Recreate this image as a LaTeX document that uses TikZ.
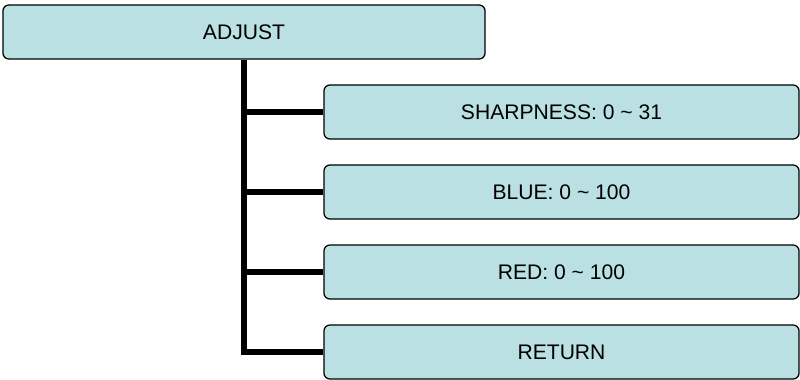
\documentclass[tikz,border=0pt]{standalone}
\usepackage{fontspec}
\setmainfont{Liberation Sans}
\usetikzlibrary{positioning}
\definecolor{menufill}{HTML}{BAE0E3}

\begin{document}
\begin{tikzpicture}
[x=0.025cm, y=-0.025cm,
 menu/.style={draw, line width=0.9pt, rounded corners=0.15cm, fill=menufill,
   minimum height=1.35cm, inner sep=0pt, font=\fontsize{15}{18}\selectfont},
 item/.style={menu, minimum width=11.875cm},
 branch/.style={line width=3.6pt}]
\useasboundingbox (0,0) rectangle (800,380);

\node [menu, minimum width=12.05cm] (adjust) at (244,32) {ADJUST};

\node [item] (sharp) at (561.5,112) {SHARPNESS: 0 \textasciitilde{} 31};
\node [item, below=0.618cm of sharp] (blue) {BLUE: 0 \textasciitilde{} 100};
\node [item, below=0.618cm of blue] (red) {RED: 0 \textasciitilde{} 100};
\node [item, below=0.618cm of red] (ret) {RETURN};

\draw [branch] (adjust.south) |- (ret.west);
\draw [branch] (adjust.south |- sharp.west) -- (sharp.west);
\draw [branch] (adjust.south |- blue.west) -- (blue.west);
\draw [branch] (adjust.south |- red.west) -- (red.west);
\end{tikzpicture}
\end{document}
